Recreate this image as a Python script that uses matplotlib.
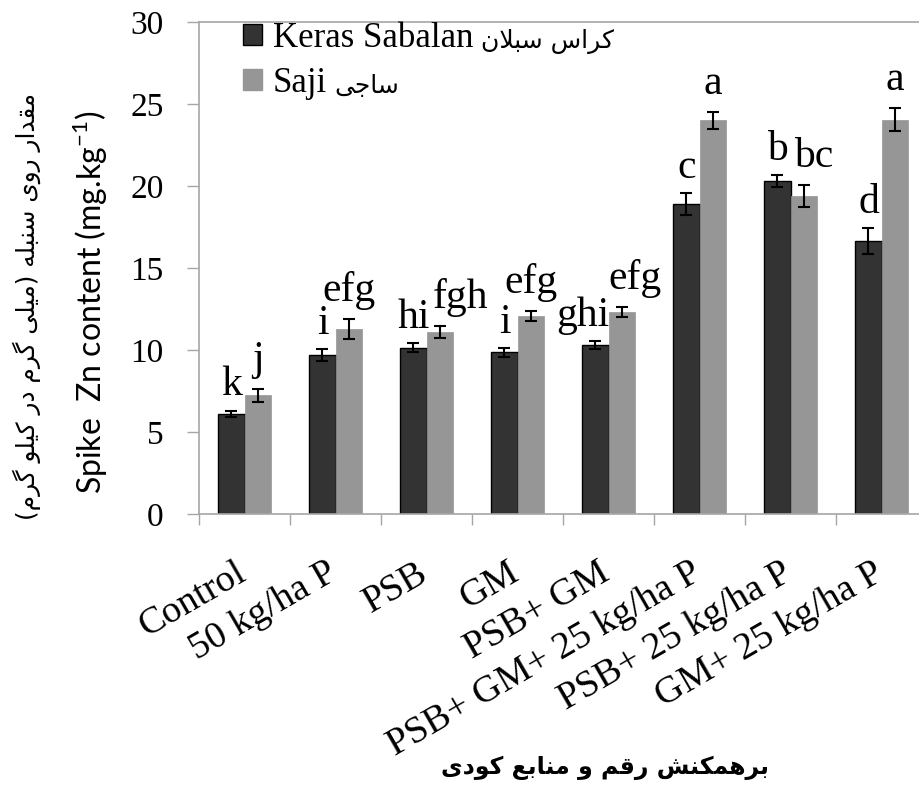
import numpy as np
import matplotlib
matplotlib.use('Agg')
import matplotlib.pyplot as plt
import matplotlib.transforms as mtransforms
from matplotlib.patches import Patch
from matplotlib.font_manager import FontProperties

# treatments and mean spike Zn (mg/kg) with standard errors
treatments = ['Control', '50 kg/ha P', 'PSB', 'GM', 'PSB+ GM',
              'PSB+ GM+ 25 kg/ha P', 'PSB+ 25 kg/ha P', 'GM+ 25 kg/ha P']
keras = [6.1, 9.7, 10.15, 9.85, 10.3, 18.9, 20.3, 16.65]
keras_err = [0.2, 0.35, 0.25, 0.28, 0.25, 0.65, 0.35, 0.8]
saji = [7.25, 11.3, 11.1, 12.05, 12.3, 24.0, 19.4, 24.05]
saji_err = [0.4, 0.6, 0.37, 0.3, 0.3, 0.5, 0.65, 0.72]
keras_letters = ['k', 'i', 'hi', 'i', 'ghi', 'c', 'b', 'd']
saji_letters = ['j', 'efg', 'fgh', 'efg', 'efg', 'a', 'bc', 'a']

# --- minimal Persian shaping (presentation forms + visual order) ---
FORMS = {
    'ا': ('\uFE8D', '\uFE8E', None, None),
    'ب': ('\uFE8F', '\uFE90', '\uFE91', '\uFE92'),
    'ج': ('\uFE9D', '\uFE9E', '\uFE9F', '\uFEA0'),
    'د': ('\uFEA9', '\uFEAA', None, None),
    'ر': ('\uFEAD', '\uFEAE', None, None),
    'س': ('\uFEB1', '\uFEB2', '\uFEB3', '\uFEB4'),
    'ش': ('\uFEB5', '\uFEB6', '\uFEB7', '\uFEB8'),
    'ع': ('\uFEC9', '\uFECA', '\uFECB', '\uFECC'),
    'ق': ('\uFED5', '\uFED6', '\uFED7', '\uFED8'),
    'ل': ('\uFEDD', '\uFEDE', '\uFEDF', '\uFEE0'),
    'م': ('\uFEE1', '\uFEE2', '\uFEE3', '\uFEE4'),
    'ن': ('\uFEE5', '\uFEE6', '\uFEE7', '\uFEE8'),
    'ه': ('\uFEE9', '\uFEEA', '\uFEEB', '\uFEEC'),
    'و': ('\uFEED', '\uFEEE', None, None),
    'ک': ('\uFB8E', '\uFB8F', '\uFB90', '\uFB91'),
    'گ': ('\uFB92', '\uFB93', '\uFB94', '\uFB95'),
    'ی': ('\uFBFC', '\uFBFD', '\uFBFE', '\uFBFF'),
}


def joins_next(c):
    return c in FORMS and FORMS[c][2] is not None


def fa(text):
    out = []
    i = 0
    n = len(text)
    while i < n:
        c = text[i]
        prev = text[i - 1] if i > 0 else ''
        nxt = text[i + 1] if i + 1 < n else ''
        if c not in FORMS:
            out.append(c)
            i += 1
            continue
        if c == 'ل' and nxt == 'ا':
            out.append('\uFEFC' if joins_next(prev) else '\uFEFB')
            i += 2
            continue
        after = joins_next(prev)
        before = joins_next(c) and nxt in FORMS
        isol, fin, ini, med = FORMS[c]
        if after and before:
            out.append(med)
        elif after:
            out.append(fin)
        elif before:
            out.append(ini)
        else:
            out.append(isol)
        i += 1
    mirror = {'(': ')', ')': '('}
    return ''.join(mirror.get(ch, ch) for ch in reversed(out))


serif = ['Liberation Serif', 'DejaVu Sans']
dark = '#333333'
light = '#969696'
axis_gray = '#a6a6a6'

fig = plt.figure(figsize=(9.19, 7.90), dpi=100)
ax = fig.add_axes([199 / 919, (790 - 514) / 790, (927 - 199) / 919, (514 - 22) / 790])

x = np.arange(len(treatments))
w = 0.286
ax.bar(x - w / 2, keras, w, color=dark, edgecolor='black', linewidth=1, zorder=2)
ax.bar(x + w / 2, saji, w, color=light, edgecolor=light, linewidth=0.5, zorder=2)
ax.errorbar(x - w / 2, keras, yerr=keras_err, fmt='none', ecolor='black',
            elinewidth=1.5, capsize=4, capthick=1.5, zorder=3)
ax.errorbar(x + w / 2, saji, yerr=saji_err, fmt='none', ecolor='black',
            elinewidth=1.5, capsize=4, capthick=1.5, zorder=3)

# significance letters above the error bars
shift_k = [0, 0, 0, 0, -9, 0, 0, 0]
shift_s = [0, 0, 15, 0, 10, 0, 7, 0]
for i in range(len(treatments)):
    ax.annotate(keras_letters[i], xy=(x[i] - w / 2, keras[i] + keras_err[i]),
                xytext=(shift_k[i], 11), textcoords='offset points',
                ha='center', va='baseline', fontsize=30, family=serif)
    ax.annotate(saji_letters[i], xy=(x[i] + w / 2, saji[i] + saji_err[i]),
                xytext=(shift_s[i], 13), textcoords='offset points',
                ha='center', va='baseline', fontsize=30, family=serif)

ax.set_xlim(-0.5, 7.5)
ax.set_ylim(0, 30)
for s in ['left', 'bottom', 'top']:
    ax.spines[s].set_color(axis_gray)
    ax.spines[s].set_linewidth(1.2)
ax.spines['right'].set_visible(False)

ax.set_yticks(range(0, 31, 5))
ax.tick_params(axis='y', direction='out', length=8.5, width=1, color=axis_gray,
               pad=17, labelsize=24)
for t in ax.get_yticklabels():
    t.set_family(serif)

ax.set_xticks(x)
ax.set_xticks(np.arange(-0.5, 8, 1), minor=True)
ax.tick_params(axis='x', which='major', length=0, pad=30, labelsize=27.5)
ax.tick_params(axis='x', which='minor', direction='out', length=8, width=1,
               color=axis_gray)
ax.set_xticklabels(treatments, rotation=30, ha='right', va='top',
                   rotation_mode='anchor', family=serif)
nudge = mtransforms.ScaledTranslation(-10 / 100, 0, fig.dpi_scale_trans)
for t in ax.get_xticklabels():
    t.set_transform(t.get_transform() + nudge)

# axis titles
fig.text(27 / 919, 1 - 307 / 790, fa('مقدار روی سنبله (میلی گرم در کیلو گرم)'),
         rotation=90, ha='center', va='center', fontsize=17.8, family='DejaVu Sans')
fig.text(90 / 919, 1 - 302 / 790, r'Spike  Zn content (mg.kg$^{\mathregular{-1}}$)',
         rotation=90, ha='center', va='center', fontsize=23, family='Lato')
fig.text(605 / 919, 1 - 768 / 790, fa('برهمکنش رقم و منابع کودی'),
         ha='center', va='center', fontsize=17, family='DejaVu Sans', weight='bold')

# legend: Latin cultivar names, Persian names appended in a smaller face
handles = [Patch(facecolor=dark, edgecolor='black'),
           Patch(facecolor=light, edgecolor=light)]
leg = ax.legend(handles, ['Keras Sabalan', 'Saji'], loc='upper left',
                bbox_to_anchor=(243 / 919, 1 - 22 / 790),
                bbox_transform=fig.transFigure, frameon=False, borderpad=0,
                prop=FontProperties(family=serif, size=25), handlelength=0.55,
                handleheight=0.55, handletextpad=0.3, labelspacing=0.35,
                borderaxespad=0)
fig.canvas.draw()
for txt, name in zip(leg.get_texts(), ['کراس سبلان', 'ساجی']):
    bb = txt.get_window_extent()
    fig.text((bb.x1 + 8) / 919, (bb.y0 + 7.5) / 790, fa(name),
             ha='left', va='baseline', fontsize=18, family='DejaVu Sans')

fig.savefig('out.png', dpi=100)
